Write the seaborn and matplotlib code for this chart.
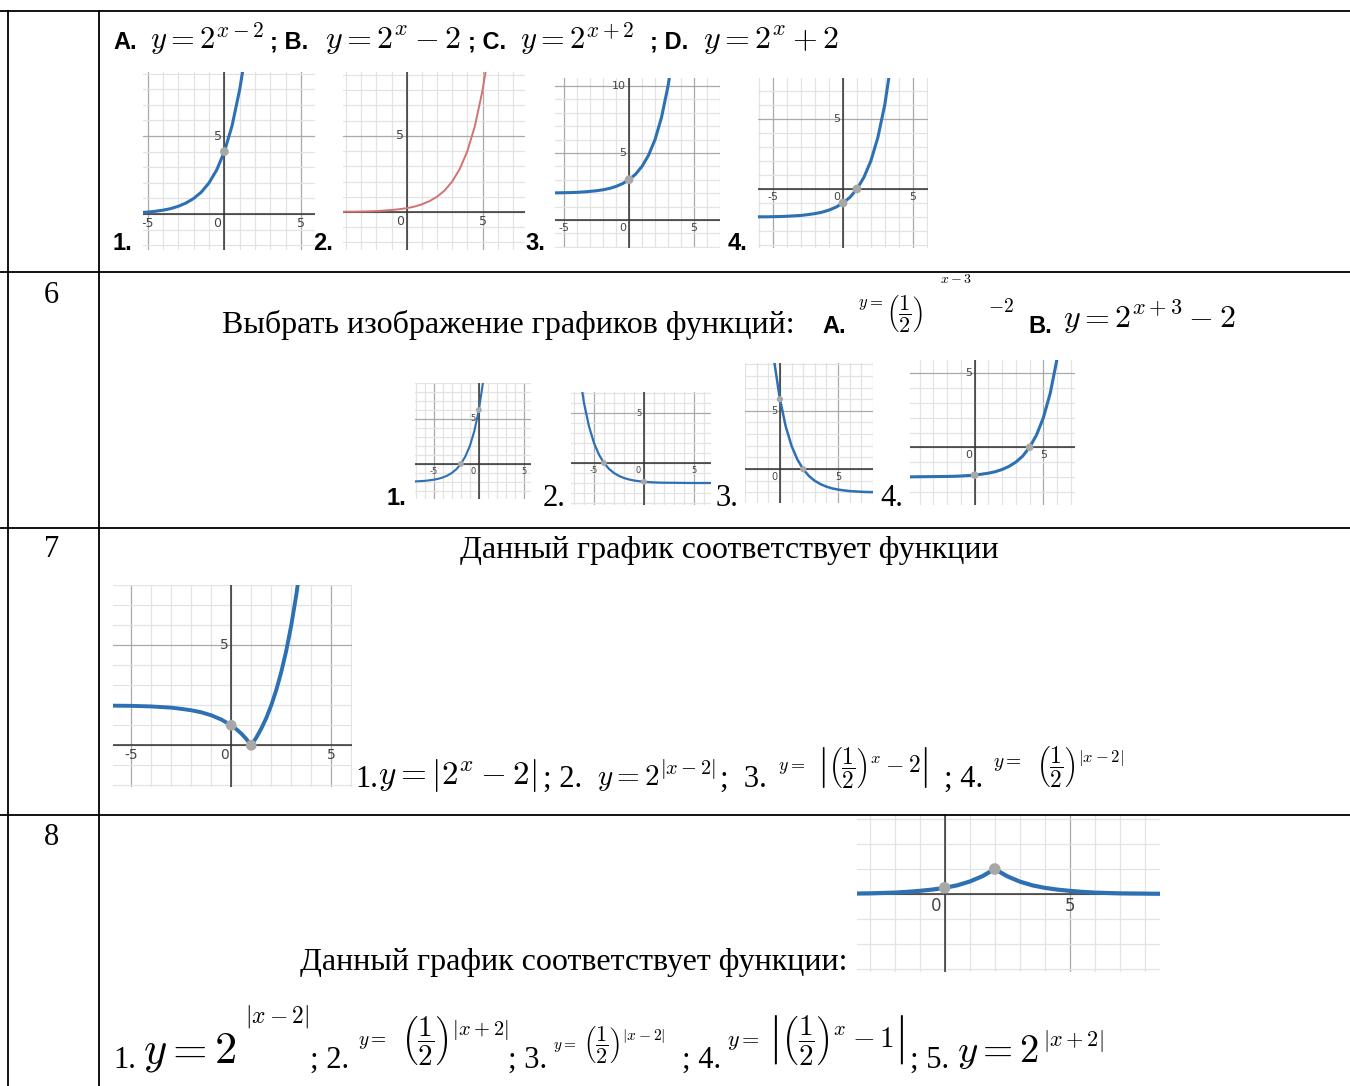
import numpy as np
import matplotlib
matplotlib.use('Agg')
import matplotlib.pyplot as plt
from matplotlib.lines import Line2D
import seaborn as sns

plt.rcParams['mathtext.fontset'] = 'cm'

W, H = 1350, 1086
BLUE = '#2d70b3'
RED = '#d27272'
DOT = '#a8a8a8'

# --- curves (x, y) ---
# row 5, graph 1
g1_x = [-5.5, -5, -4.5, -4, -3.5, -3, -2.5, -2, -1.5, -1, -0.5, 0, 0.5, 1, 1.25]
g1_y = [0.09, 0.13, 0.18, 0.25, 0.35, 0.5, 0.71, 1, 1.41, 2, 2.83, 4, 5.66, 8, 9.51]
# row 5, graph 2
g2_x = [-4.5, -4, -3.5, -3, -2.5, -2, -1.5, -1, -0.5, 0, 0.5, 1, 1.5, 2, 2.5, 3, 3.5, 4, 4.5, 5, 5.25]
g2_y = [0.01, 0.02, 0.02, 0.03, 0.04, 0.06, 0.09, 0.13, 0.18, 0.25, 0.35, 0.5, 0.71, 1, 1.41, 2, 2.83, 4, 5.66, 8, 9.51]
# row 5, graph 3
g3_x = [-6, -5.5, -5, -4.5, -4, -3.5, -3, -2.5, -2, -1.5, -1, -0.5, 0, 0.5, 1, 1.5, 2, 2.5, 3, 3.25]
g3_y = [2.02, 2.02, 2.03, 2.04, 2.06, 2.09, 2.13, 2.18, 2.25, 2.35, 2.5, 2.71, 3, 3.41, 4, 4.83, 6, 7.66, 10, 11.51]
# row 5, graph 4
g4_x = [-6.5, -6, -5.5, -5, -4.5, -4, -3.5, -3, -2.5, -2, -1.5, -1, -0.5, 0, 0.5, 1, 1.5, 2, 2.5, 3, 3.5]
g4_y = [-1.99, -1.98, -1.98, -1.97, -1.96, -1.94, -1.91, -1.88, -1.82, -1.75, -1.65, -1.5, -1.29, -1, -0.59, 0, 0.83, 2, 3.66, 6, 9.31]

# row 6, graphs 1-4
h1_x = [-7.5, -7, -6.5, -6, -5.5, -5, -4.5, -4, -3.5, -3, -2.5, -2, -1.5, -1, -0.5, 0, 0.5]
h1_y = [-1.96, -1.94, -1.91, -1.88, -1.82, -1.75, -1.65, -1.5, -1.29, -1, -0.59, 0, 0.83, 2, 3.66, 6, 9.31]
h2_x = [-7, -6.5, -6, -5.5, -5, -4.5, -4, -3.5, -3, -2.5, -2, -1.5, -1, -0.5, 0, 0.5, 1, 1.5, 2, 3, 4, 5, 6, 7]
h2_y = [14, 9.31, 6, 3.66, 2, 0.83, 0, -0.59, -1, -1.29, -1.5, -1.65, -1.75, -1.82, -1.88, -1.91, -1.94, -1.96, -1.97, -1.98, -1.99, -2.0, -2.0, -2.0]
h3_x = [-1, -0.5, 0, 0.5, 1, 1.5, 2, 2.5, 3, 3.5, 4, 4.5, 5, 5.5, 6, 6.5, 7, 7.5, 8, 8.5]
h3_y = [14, 9.31, 6, 3.66, 2, 0.83, 0, -0.59, -1, -1.29, -1.5, -1.65, -1.75, -1.82, -1.88, -1.91, -1.94, -1.96, -1.97, -1.98]
h4_x = [-5, -4, -3, -2, -1.5, -1, -0.5, 0, 0.5, 1, 1.5, 2, 2.5, 3, 3.5, 4, 4.5, 5, 5.5, 6, 6.5]
h4_y = [-2.0, -1.99, -1.98, -1.97, -1.96, -1.94, -1.91, -1.88, -1.82, -1.75, -1.65, -1.5, -1.29, -1, -0.59, 0, 0.83, 2, 3.66, 6, 9.31]

# row 7
k_x = [-6.5, -6, -5, -4, -3.5, -3, -2.5, -2, -1.5, -1, -0.5, 0, 0.25, 0.5, 0.75, 1,
       1.25, 1.5, 1.75, 2, 2.25, 2.5, 2.75, 3, 3.25, 3.5]
k_y = [1.99, 1.98, 1.97, 1.94, 1.91, 1.88, 1.82, 1.75, 1.65, 1.5, 1.29, 1, 0.81, 0.59, 0.32, 0,
       0.38, 0.83, 1.36, 2, 2.76, 3.66, 4.73, 6, 7.51, 9.31]

# row 8
m_x = [-4, -3, -2, -1.5, -1, -0.5, 0, 0.5, 1, 1.5, 2, 2.5, 3, 3.5, 4, 4.5, 5, 5.5, 6, 7, 8, 9]
m_y = [0.02, 0.03, 0.06, 0.09, 0.13, 0.18, 0.25, 0.35, 0.5, 0.71, 1, 0.71, 0.5, 0.35, 0.25, 0.18, 0.13, 0.09, 0.06, 0.03, 0.02, 0.01]

fig = plt.figure(figsize=(13.5, 10.86), dpi=100)


def fx(x):
    return x / W


def fy(y):
    return 1 - y / H


def txt(x, y, s, size, family='Liberation Serif', weight='normal', **kw):
    fig.text(fx(x), fy(y), s, fontsize=size, family=family, weight=weight,
             ha=kw.pop('ha', 'left'), va=kw.pop('va', 'baseline'), **kw)


def bold(x, y, s, size=17):
    txt(x, y, s, size, family='Liberation Sans', weight='bold')


def graph(box, xlim, ylim, xs, ys, dots, xlabs, ylabs, color=BLUE, lw=2.2, ms=40, fs=9):
    x0, y0, x1, y1 = box
    ax = fig.add_axes([fx(x0), fy(y1), (x1 - x0) / W, (y1 - y0) / H])
    ax.set_xlim(*xlim)
    ax.set_ylim(*ylim)
    ax.set_axis_off()
    for v in range(int(np.ceil(xlim[0])), int(np.floor(xlim[1])) + 1):
        major = v % 5 == 0
        ax.axvline(v, color='#a9a9a9' if major else '#e3e3e3', lw=0.9, zorder=0)
    for v in range(int(np.ceil(ylim[0])), int(np.floor(ylim[1])) + 1):
        major = v % 5 == 0
        ax.axhline(v, color='#a9a9a9' if major else '#e3e3e3', lw=0.9, zorder=0)
    ax.axhline(0, color='#333333', lw=1.1, zorder=1)
    ax.axvline(0, color='#333333', lw=1.1, zorder=1)
    sns.lineplot(x=xs, y=ys, ax=ax, color=color, lw=lw, estimator=None, sort=False, zorder=3)
    if dots:
        sns.scatterplot(x=[d[0] for d in dots], y=[d[1] for d in dots], ax=ax,
                        color=DOT, s=ms, edgecolor='none', zorder=4)
    for v in xlabs:
        if v == 0:
            ax.annotate('0', (0, 0), xytext=(-2, -2), textcoords='offset points',
                        ha='right', va='top', fontsize=fs, color='#444', family='DejaVu Sans')
        else:
            t = ax.annotate(str(v), (v, 0), xytext=(0, -2), textcoords='offset points',
                            ha='center', va='top', fontsize=fs, color='#444', family='DejaVu Sans')
            t.set_clip_on(True)
            t.set_clip_box(ax.bbox)
    for v in ylabs:
        ax.annotate(str(v), (0, v), xytext=(-2, 0), textcoords='offset points',
                    ha='right', va='center', fontsize=fs, color='#444', family='DejaVu Sans')
    ax.set_xlabel('')
    ax.set_ylabel('')
    return ax


HALF = r'\left(\dfrac{1}{2}\right)'

# ---------- row 5 ----------
bold(113, 49, 'A.')
txt(150, 49, r'$y=2^{x-2}$', 22)
bold(270, 49, '; B.')
txt(325, 49, r'$y=2^x-2$', 23)
bold(468, 49, '; C.')
txt(520, 49, r'$y=2^{x+2}$', 22)
bold(650, 49, '; D.')
txt(703, 49, r'$y=2^x+2$', 23)

graph((143, 72, 315, 250), (-5.3, 5.9), (-2.3, 9.1), g1_x, g1_y, [(0, 4)], [-5, 0, 5], [5])
graph((343, 72, 525, 250), (-4.2, 7.8), (-2.5, 9.2), g2_x, g2_y, [], [0, 5], [5], color=RED, lw=1.4)
graph((555, 78, 720, 248), (-5.7, 7.0), (-2.1, 10.6), g3_x, g3_y, [(0, 3)], [-5, 0, 5], [5, 10], fs=8)
graph((758, 78, 928, 248), (-6.1, 6.1), (-4.2, 7.9), g4_x, g4_y, [(0, -1), (1, 0)], [-5, 0, 5], [5], fs=8)
for x, s in [(113, '1.'), (313, '2.'), (525, '3.'), (728, '4.')]:
    bold(x, 250, s)

# ---------- row 6 ----------
txt(44, 303, '6', 22)
txt(222, 333, 'Выбрать изображение графиков функций:', 23)
bold(822, 333, 'A.')
txt(858, 307, r'$y=$', 12)
txt(886, 318, '$' + HALF + '$', 16)
txt(940, 283, r'$x-3$', 10)
txt(988, 312, r'$-2$', 14)
bold(1028, 333, 'B.')
txt(1063, 328, r'$y=2^{x+3}-2$', 23)

graph((415, 383, 531, 499), (-7.1, 5.8), (-3.9, 9.0), h1_x, h1_y, [(0, 6), (-2, 0)], [-5, 0, 5], [5], lw=1.5, ms=18, fs=6)
graph((571, 392, 711, 505), (-7.3, 6.7), (-4.2, 7.1), h2_x, h2_y, [(-4, 0), (0, -1.88)], [-5, 0, 5], [5], lw=1.6, ms=18, fs=6)
graph((745, 363, 873, 503), (-3.0, 8.0), (-2.9, 9.1), h3_x, h3_y, [(0, 6), (2, 0)], [0, 5], [5], lw=1.8, ms=20, fs=7)
graph((910, 360, 1075, 505), (-4.7, 7.3), (-3.9, 5.9), h4_x, h4_y, [(0, -1.88), (4, 0)], [0, 5], [5], lw=2.2, ms=30, fs=8)
bold(387, 505, '1.')
txt(543, 506, '2.', 22)
txt(715, 506, '3.', 22)
txt(880, 506, '4.', 22)

# ---------- row 7 ----------
txt(44, 557, '7', 22)
txt(729, 558, 'Данный график соответствует функции', 23, ha='center')
graph((113, 585, 352, 787), (-5.9, 6.03), (-2.08, 8.0), k_x, k_y, [(0, 1), (1, 0)], [-5, 0, 5], [5], lw=2.8, ms=60, fs=10)
txt(355, 787, '1.', 22)
txt(378, 784, r'$y=|2^x-2|$', 24)
txt(543, 787, '; 2.', 22)
txt(597, 786, r'$y=2^{|x-2|}$', 21)
txt(720, 787, ';  3.', 22)
txt(778, 770, r'$y=$', 13)
txt(817, 774, r'$\left|' + HALF + r'^x-2\right|$', 17)
txt(944, 787, '; 4.', 22)
txt(993, 767, r'$y=$', 14)
txt(1036, 773, '$' + HALF + r'^{|x-2|}$', 17)

# ---------- row 8 ----------
txt(44, 845, '8', 22)
graph((857, 815, 1160, 972), (-3.5, 8.6), (-3.1, 3.15), m_x, m_y, [(0, 0.25), (2, 1)], [0, 5], [], lw=3.0, ms=70, fs=12)
txt(300, 970, 'Данный график соответствует функции:', 23)
txt(113, 1068, '1.', 22)
txt(143, 1063, r'$y=2$', 32)
txt(245, 1022, r'$|x-2|$', 17)
txt(310, 1068, '; 2.', 22)
txt(358, 1045, r'$y=$', 14)
txt(401, 1048, '$' + HALF + r'^{|x+2|}$', 21)
txt(508, 1068, '; 3.', 22)
txt(553, 1049, r'$y=$', 11)
txt(583, 1049, '$' + HALF + r'^{|x-2|}$', 16)
txt(682, 1068, '; 4.', 22)
txt(727, 1046, r'$y=$', 16)
txt(768, 1048, r'$\left|' + HALF + r'^x-1\right|$', 21)
txt(910, 1068, '; 5.', 22)
txt(957, 1062, r'$y=2$', 28)
txt(1043, 1046, r'$|x+2|$', 16)

# ---------- table rules ----------
for y in [11, 272, 528, 815]:
    fig.add_artist(Line2D([fx(0), fx(W)], [fy(y), fy(y)], color='black', lw=1.3))
fig.add_artist(Line2D([fx(99), fx(99)], [fy(11), fy(H)], color='black', lw=1.3))
fig.add_artist(Line2D([fx(8), fx(8)], [fy(11), fy(H)], color='black', lw=1.3))

fig.savefig('out.png', dpi=100, facecolor='white')
